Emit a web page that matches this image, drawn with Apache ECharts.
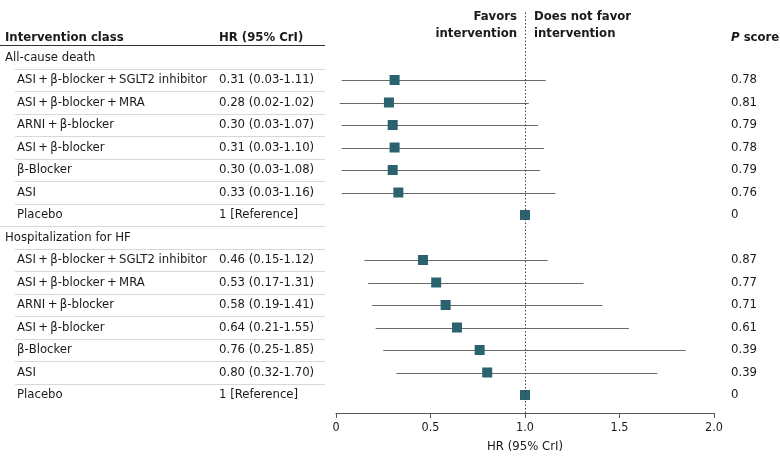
<!DOCTYPE html>
<html>
<head>
<meta charset="utf-8">
<script src="https://cdn.jsdelivr.net/npm/echarts@6/dist/echarts.min.js"></script>
<style>html,body{margin:0;padding:0;background:#fff}#c{width:780px;height:465px}</style>
</head>
<body>
<div id="c"></div>
<script>
// ---- Data ----
const groups = ['All-cause death', 'Hospitalization for HF'];
const classes = ['ASI\u2009+\u2009β-blocker\u2009+\u2009SGLT2 inhibitor', 'ASI\u2009+\u2009β-blocker\u2009+\u2009MRA', 'ARNI\u2009+\u2009β-blocker', 'ASI\u2009+\u2009β-blocker', 'β-Blocker', 'ASI', 'Placebo'];
const deathHR = [0.31, 0.28, 0.30, 0.31, 0.30, 0.33, 1];
const deathLo = [0.03, 0.02, 0.03, 0.03, 0.03, 0.03, null];
const deathHi = [1.11, 1.02, 1.07, 1.10, 1.08, 1.16, null];
const deathP = [0.78, 0.81, 0.79, 0.78, 0.79, 0.76, 0];
const hospHR = [0.46, 0.53, 0.58, 0.64, 0.76, 0.80, 1];
const hospLo = [0.15, 0.17, 0.19, 0.21, 0.25, 0.32, null];
const hospHi = [1.12, 1.31, 1.41, 1.55, 1.85, 1.70, null];
const hospP = [0.87, 0.77, 0.71, 0.61, 0.39, 0.39, 0];
const xTicks = [0, 0.5, 1.0, 1.5, 2.0];

// ---- Build rows ----
const rows = [];
[[deathHR, deathLo, deathHi, deathP], [hospHR, hospLo, hospHi, hospP]].forEach((g, gi) => {
  rows.push({ label: groups[gi], header: true });
  classes.forEach((c, k) => {
    rows.push({ label: c, hr: g[0][k], lo: g[1][k], hi: g[2][k], p: g[3][k], lastInGroup: k === classes.length - 1 });
  });
});

const FONT = 'DejaVu Sans Condensed';
const FS = 13;
const TXT = '#1a1a1a';
const MARK = '#2a6270';

const hrText = r => r.lo == null ? '1 [Reference]' : r.hr.toFixed(2) + ' (' + r.lo.toFixed(2) + '-' + r.hi.toFixed(2) + ')';
const pText = r => r.p === 0 ? '0' : r.p.toFixed(2);

const ciData = [], ptData = [], tableData = [];
rows.forEach((r, i) => {
  tableData.push([0, i]);
  if (r.header) return;
  ptData.push([r.hr, i]);
  if (r.lo != null) ciData.push([r.lo, r.hi, i]);
});

const chart = echarts.init(document.getElementById('c'));
chart.setOption({
  animation: false,
  backgroundColor: '#fff',
  grid: { left: 336, right: 66, top: 12.5, bottom: 52 },
  xAxis: {
    type: 'value', min: 0, max: 2, interval: 0.5, position: 'bottom',
    axisLine: { onZero: false, lineStyle: { color: '#555', width: 1 } },
    axisTick: { show: true, length: 5, lineStyle: { color: '#555' } },
    splitLine: { show: false },
    axisLabel: { color: TXT, fontSize: 12.5, fontFamily: FONT, margin: 8,
      formatter: v => (v === 0 ? '0' : v.toFixed(1)) },
    name: 'HR (95% CrI)', nameLocation: 'middle', nameGap: 27,
    nameTextStyle: { color: TXT, fontSize: 13, fontFamily: FONT }
  },
  yAxis: { type: 'value', inverse: true, min: -2, max: 15.8, show: false },
  series: [
    {
      type: 'custom', name: 'table', data: tableData, encode: { x: 0, y: 1 }, silent: true, clip: false,
      renderItem: (params, api) => {
        const i = api.value(1);
        const r = rows[i];
        const y = api.coord([0, i])[1];
        const ch = [];
        ch.push({ type: 'text', x: r.header ? 5 : 17, y: y, style: { text: r.label, fill: TXT, fontSize: FS, fontFamily: FONT, verticalAlign: 'middle', align: 'left' } });
        if (!r.header) {
          ch.push({ type: 'text', x: 219, y: y, style: { text: hrText(r), fill: TXT, fontSize: FS, fontFamily: FONT, verticalAlign: 'middle', align: 'left' } });
          ch.push({ type: 'text', x: 731, y: y, style: { text: pText(r), fill: TXT, fontSize: FS, fontFamily: FONT, verticalAlign: 'middle', align: 'left' } });
        }
        if (i < rows.length - 1) {
          const yl = Math.round(api.coord([0, i + 0.5])[1]) + 0.5;
          ch.push({ type: 'line', shape: { x1: r.lastInGroup ? 0 : 15, y1: yl, x2: 325, y2: yl }, style: { stroke: '#d9d9d4', lineWidth: 1 } });
        }
        return { type: 'group', children: ch };
      },
      z: 1
    },
    {
      type: 'custom', name: 'headers', data: [[1, -0.9]], encode: { x: 0, y: 1 }, silent: true, clip: false,
      renderItem: (params, api) => {
        const yh = api.coord([0, -0.9])[1];
        const yu = Math.round(api.coord([0, -0.55])[1]) + 0.5;
        const x1 = api.coord([1, 0])[0];
        const yA = api.coord([0, -1.82])[1];
        const yB = api.coord([0, -1.06])[1];
        const bold = { fill: TXT, fontSize: FS, fontFamily: FONT, fontWeight: 'bold', verticalAlign: 'middle', align: 'left' };
        const reg = { fill: TXT, fontSize: FS, fontFamily: FONT, verticalAlign: 'middle' };
        return { type: 'group', children: [
          { type: 'text', x: 5, y: yh, style: Object.assign({ text: 'Intervention class' }, bold) },
          { type: 'text', x: 219, y: yh, style: Object.assign({ text: 'HR (95% CrI)' }, bold) },
          { type: 'text', x: 731, y: yh, style: Object.assign({ text: '{i|P} score', rich: { i: { fontStyle: 'italic', fontWeight: 'bold', fontSize: FS, fontFamily: FONT, fill: TXT } } }, bold) },
          { type: 'line', shape: { x1: 0, y1: yu, x2: 325, y2: yu }, style: { stroke: '#333', lineWidth: 1.2 } },
          { type: 'text', x: x1 - 8, y: yA, style: Object.assign({ text: 'Favors', align: 'right', fontWeight: 'bold' }, reg) },
          { type: 'text', x: x1 - 8, y: yB, style: Object.assign({ text: 'intervention', align: 'right', fontWeight: 'bold' }, reg) },
          { type: 'text', x: x1 + 9, y: yA, style: Object.assign({ text: 'Does not favor', align: 'left', fontWeight: 'bold' }, reg) },
          { type: 'text', x: x1 + 9, y: yB, style: Object.assign({ text: 'intervention', align: 'left', fontWeight: 'bold' }, reg) }
        ] };
      }
    },
    {
      type: 'custom', name: 'CI', data: ciData, encode: { x: [0, 1], y: 2 }, silent: true,
      renderItem: (params, api) => {
        const a = api.coord([api.value(0), api.value(2)]);
        const b = api.coord([api.value(1), api.value(2)]);
        const y = Math.round(a[1]) + 0.5;
        return { type: 'line', shape: { x1: a[0], y1: y, x2: b[0], y2: y }, style: { stroke: '#6a6a6a', lineWidth: 1.2 } };
      },
      z: 2
    },
    {
      type: 'scatter', name: 'HR', data: ptData, symbol: 'rect', symbolSize: 10,
      itemStyle: { color: MARK, opacity: 1 }, silent: true, z: 4,
      markLine: {
        silent: true, symbol: ['none', 'none'], label: { show: false },
        lineStyle: { type: [1.5, 2], color: '#444', width: 1 },
        data: [{ xAxis: 1 }]
      }
    }
  ]
});
</script>
</body>
</html>
